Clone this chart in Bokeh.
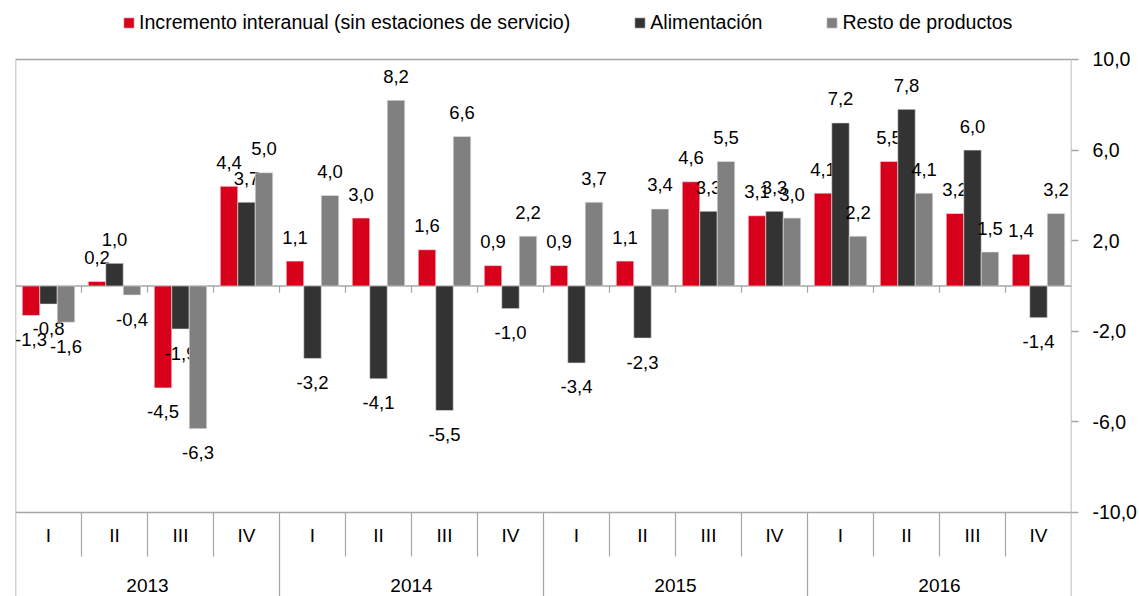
import numpy as np
from bokeh.plotting import figure
from bokeh.models import Range1d, FixedTicker, Legend, LegendItem, ColumnDataSource
from bokeh.core.properties import value
from bokeh.embed import file_html
from bokeh.resources import INLINE

years = ["2013", "2014", "2015", "2016"]
quarters = ["I", "II", "III", "IV"]
series_names = ["Incremento interanual (sin estaciones de servicio)", "Alimentación", "Resto de productos"]
incremento = [-1.3, 0.2, -4.5, 4.4, 1.1, 3.0, 1.6, 0.9, 0.9, 1.1, 4.6, 3.1, 4.1, 5.5, 3.2, 1.4]
alimentacion = [-0.8, 1.0, -1.9, 3.7, -3.2, -4.1, -5.5, -1.0, -3.4, -2.3, 3.3, 3.3, 7.2, 7.8, 6.0, -1.4]
resto = [-1.6, -0.4, -6.3, 5.0, 4.0, 8.2, 6.6, 2.2, 3.7, 3.4, 5.5, 3.0, 2.2, 4.1, 1.5, 3.2]
y_ticks = [-10, -6, -2, 2, 6, 10]
y_tick_labels = ["-10,0", "-6,0", "-2,0", "2,0", "6,0", "10,0"]

colors = ["#D9001B", "#333333", "#808080"]
FONT = "Liberation Sans"
GRID = "#A6A6A6"

n = len(incremento)
VMIN, VMAX = -10, 10
YMIN, YMAX = -13.71, 12.605

p = figure(width=1139, height=596, output_backend="svg", toolbar_location=None,
           x_range=Range1d(0, n), y_range=Range1d(YMIN, YMAX),
           x_axis_location=None, y_axis_location="right",
           min_border_left=15, min_border_right=68, min_border_top=0, min_border_bottom=0)
p.grid.visible = False
p.outline_line_color = None
p.background_fill_color = "white"
p.border_fill_color = "white"

ax = p.yaxis[0]
ax.ticker = FixedTicker(ticks=y_ticks)
ax.major_label_overrides = {t: l for t, l in zip(y_ticks, y_tick_labels)}
ax.axis_line_color = None
ax.major_tick_line_color = GRID
ax.major_tick_line_width = 1.5
ax.major_tick_out = 7
ax.major_tick_in = 0
ax.minor_tick_line_color = None
ax.major_label_standoff = 14
ax.major_label_text_font = FONT
ax.major_label_text_font_size = "19.5px"
ax.major_label_text_color = "black"

# frame borders: top, left, right (value axis line)
p.segment(x0=[0, 0, n], x1=[n, 0, n], y0=[VMAX, VMAX, VMAX], y1=[VMAX, YMIN, YMIN],
          line_color=GRID, line_width=1.5)
# reference lines at 0 and at the bottom of the value area
p.segment(x0=[0, 0], x1=[n, n], y0=[0, VMIN], y1=[0, VMIN], line_color=GRID, line_width=1.5)
# small ticks under zero line
bx = np.arange(1, n)
p.segment(x0=bx, x1=bx, y0=np.zeros(len(bx)), y1=np.full(len(bx), -0.3), line_color=GRID, line_width=1.2)
# category separators
qsep = [i for i in range(1, n) if i % 4 != 0]
ysep = [i for i in range(1, n) if i % 4 == 0]
p.segment(x0=qsep, x1=qsep, y0=[VMIN] * len(qsep), y1=[-11.94] * len(qsep), line_color=GRID, line_width=1.2)
p.segment(x0=ysep, x1=ysep, y0=[VMIN] * len(ysep), y1=[YMIN] * len(ysep), line_color=GRID, line_width=1.2)

bw = 0.265
offsets = [-bw, 0.0, bw]
centers = np.arange(n) + 0.5
renderers = []
for vals, off, col in zip([incremento, alimentacion, resto], offsets, colors):
    xs = centers + off
    v = np.array(vals)
    src = ColumnDataSource(dict(x=xs, top=v, lab=[f"{a:.1f}".replace(".", ",") for a in v],
                                yo=np.where(v >= 0, -24, 24)))
    r = p.vbar(x="x", top="top", bottom=0, width=bw, source=src, fill_color=col,
               line_color="#E8E8E8", line_width=0.6)
    renderers.append(r)
    p.text(x="x", y="top", text="lab", y_offset="yo", source=src, text_align="center",
           text_baseline="middle", text_font=value(FONT), text_font_size="18.5px", text_color="black")

# category labels
qlabels = [quarters[i % 4] for i in range(n)]
p.text(x=centers, y=[-11.02] * n, text=qlabels, text_align="center", text_baseline="middle",
       text_font=value(FONT), text_font_size="19px", text_color="black")
p.text(x=[2, 6, 10, 14], y=[-13.22] * 4, text=years, text_align="center", text_baseline="middle",
       text_font=value(FONT), text_font_size="19px", text_color="black")

legend = Legend(items=[LegendItem(label=nm, renderers=[r]) for nm, r in zip(series_names, renderers)],
                orientation="horizontal", location=(107, 562), glyph_width=13, glyph_height=13,
                label_standoff=4, spacing=63, padding=0, margin=0, border_line_color=None,
                background_fill_alpha=0, label_text_font=FONT, label_text_font_size="19.6px",
                label_text_color="black")
p.add_layout(legend, "center")

open("out.html", "w").write(file_html(p, INLINE))
